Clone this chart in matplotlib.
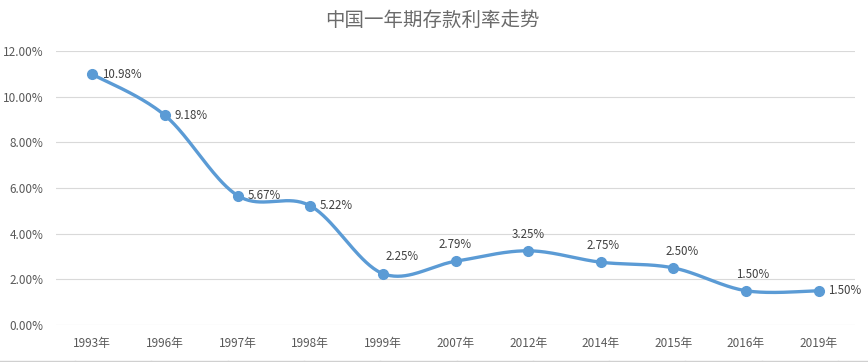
import numpy as np
import matplotlib
matplotlib.use("Agg")
import matplotlib.pyplot as plt
from matplotlib.lines import Line2D

plt.rcParams['font.family'] = ['Noto Sans CJK SC', 'DejaVu Sans']

title = "中国一年期存款利率走势"
categories = ["1993年", "1996年", "1997年", "1998年", "1999年", "2007年",
              "2012年", "2014年", "2015年", "2016年", "2019年"]
rates = [10.98, 9.18, 5.67, 5.22, 2.25, 2.79, 3.25, 2.75, 2.50, 1.50, 1.50]
y_ticks = [0, 2, 4, 6, 8, 10, 12]

# label placement: offset in points (dx, dy)
label_offsets = [(7, 0), (7, 0), (7, 0), (7, 0), (14, 12), (0, 12),
                 (0, 12), (2, 12), (6, 12), (5, 12), (7, 0)]

LINE = "#5B9BD5"
TXT = "#595959"


def catmull_rom(xs, ys, n=40):
    xs = np.asarray(xs, float)
    ys = np.asarray(ys, float)
    px = np.concatenate([[xs[0]], xs, [xs[-1]]])
    py = np.concatenate([[ys[0]], ys, [ys[-1]]])
    outx, outy = [], []
    t = np.linspace(0, 1, n)
    for i in range(1, len(px) - 2):
        p0x, p1x, p2x, p3x = px[i - 1], px[i], px[i + 1], px[i + 2]
        p0y, p1y, p2y, p3y = py[i - 1], py[i], py[i + 1], py[i + 2]
        c1x = p1x + (p2x - p0x) / 6
        c1y = p1y + (p2y - p0y) / 6
        c2x = p2x - (p3x - p1x) / 6
        c2y = p2y - (p3y - p1y) / 6
        bx = (1 - t) ** 3 * p1x + 3 * (1 - t) ** 2 * t * c1x + 3 * (1 - t) * t ** 2 * c2x + t ** 3 * p2x
        by = (1 - t) ** 3 * p1y + 3 * (1 - t) ** 2 * t * c1y + 3 * (1 - t) * t ** 2 * c2y + t ** 3 * p2y
        outx.append(bx)
        outy.append(by)
    return np.concatenate(outx), np.concatenate(outy)


W, H = 868, 362
fig = plt.figure(figsize=(W / 100, H / 100), dpi=100)
ax = fig.add_axes([56 / W, 37 / H, 799 / W, 274 / H])

x = np.arange(len(categories))
sx, sy = catmull_rom(x, rates)
ax.plot(sx, sy, color=LINE, lw=2.4, solid_capstyle='round', zorder=3)
ax.plot(x, rates, 'o', color=LINE, ms=7, zorder=4)

for xi, v, (dx, dy) in zip(x, rates, label_offsets):
    ha = 'left' if dy == 0 else 'center'
    ax.annotate(f"{v:.2f}%", (xi, v), xytext=(dx, dy), textcoords='offset points',
                ha=ha, va='center', fontsize=8.3, color='#404040', zorder=5)

ax.set_xlim(-0.5, len(categories) - 0.5)
ax.set_ylim(0, 12)
ax.set_yticks(y_ticks)
ax.set_yticklabels([f"{t:.2f}%" for t in y_ticks])
ax.set_xticks(x)
ax.set_xticklabels(categories)
ax.grid(axis='y', color='#D9D9D9', lw=0.8)
ax.set_axisbelow(True)
for s in ax.spines.values():
    s.set_visible(False)
ax.tick_params(axis='both', length=0, colors=TXT, labelsize=8.5)
ax.tick_params(axis='y', pad=9)
ax.tick_params(axis='x', pad=9)

fig.text(432 / W, 1 - 20 / H, title, ha='center', va='center', fontsize=14, color='#6B6B6B')

# bottom frame line
fig.add_artist(Line2D([0, 1], [1.5 / H, 1.5 / H], color='#D0D0D0', lw=1))
for tx in np.linspace(75, 838, 11):
    fig.add_artist(Line2D([tx / W, tx / W], [0, 1.5 / H], color='#D0D0D0', lw=1))

fig.savefig("out.png", dpi=100, facecolor='white')
